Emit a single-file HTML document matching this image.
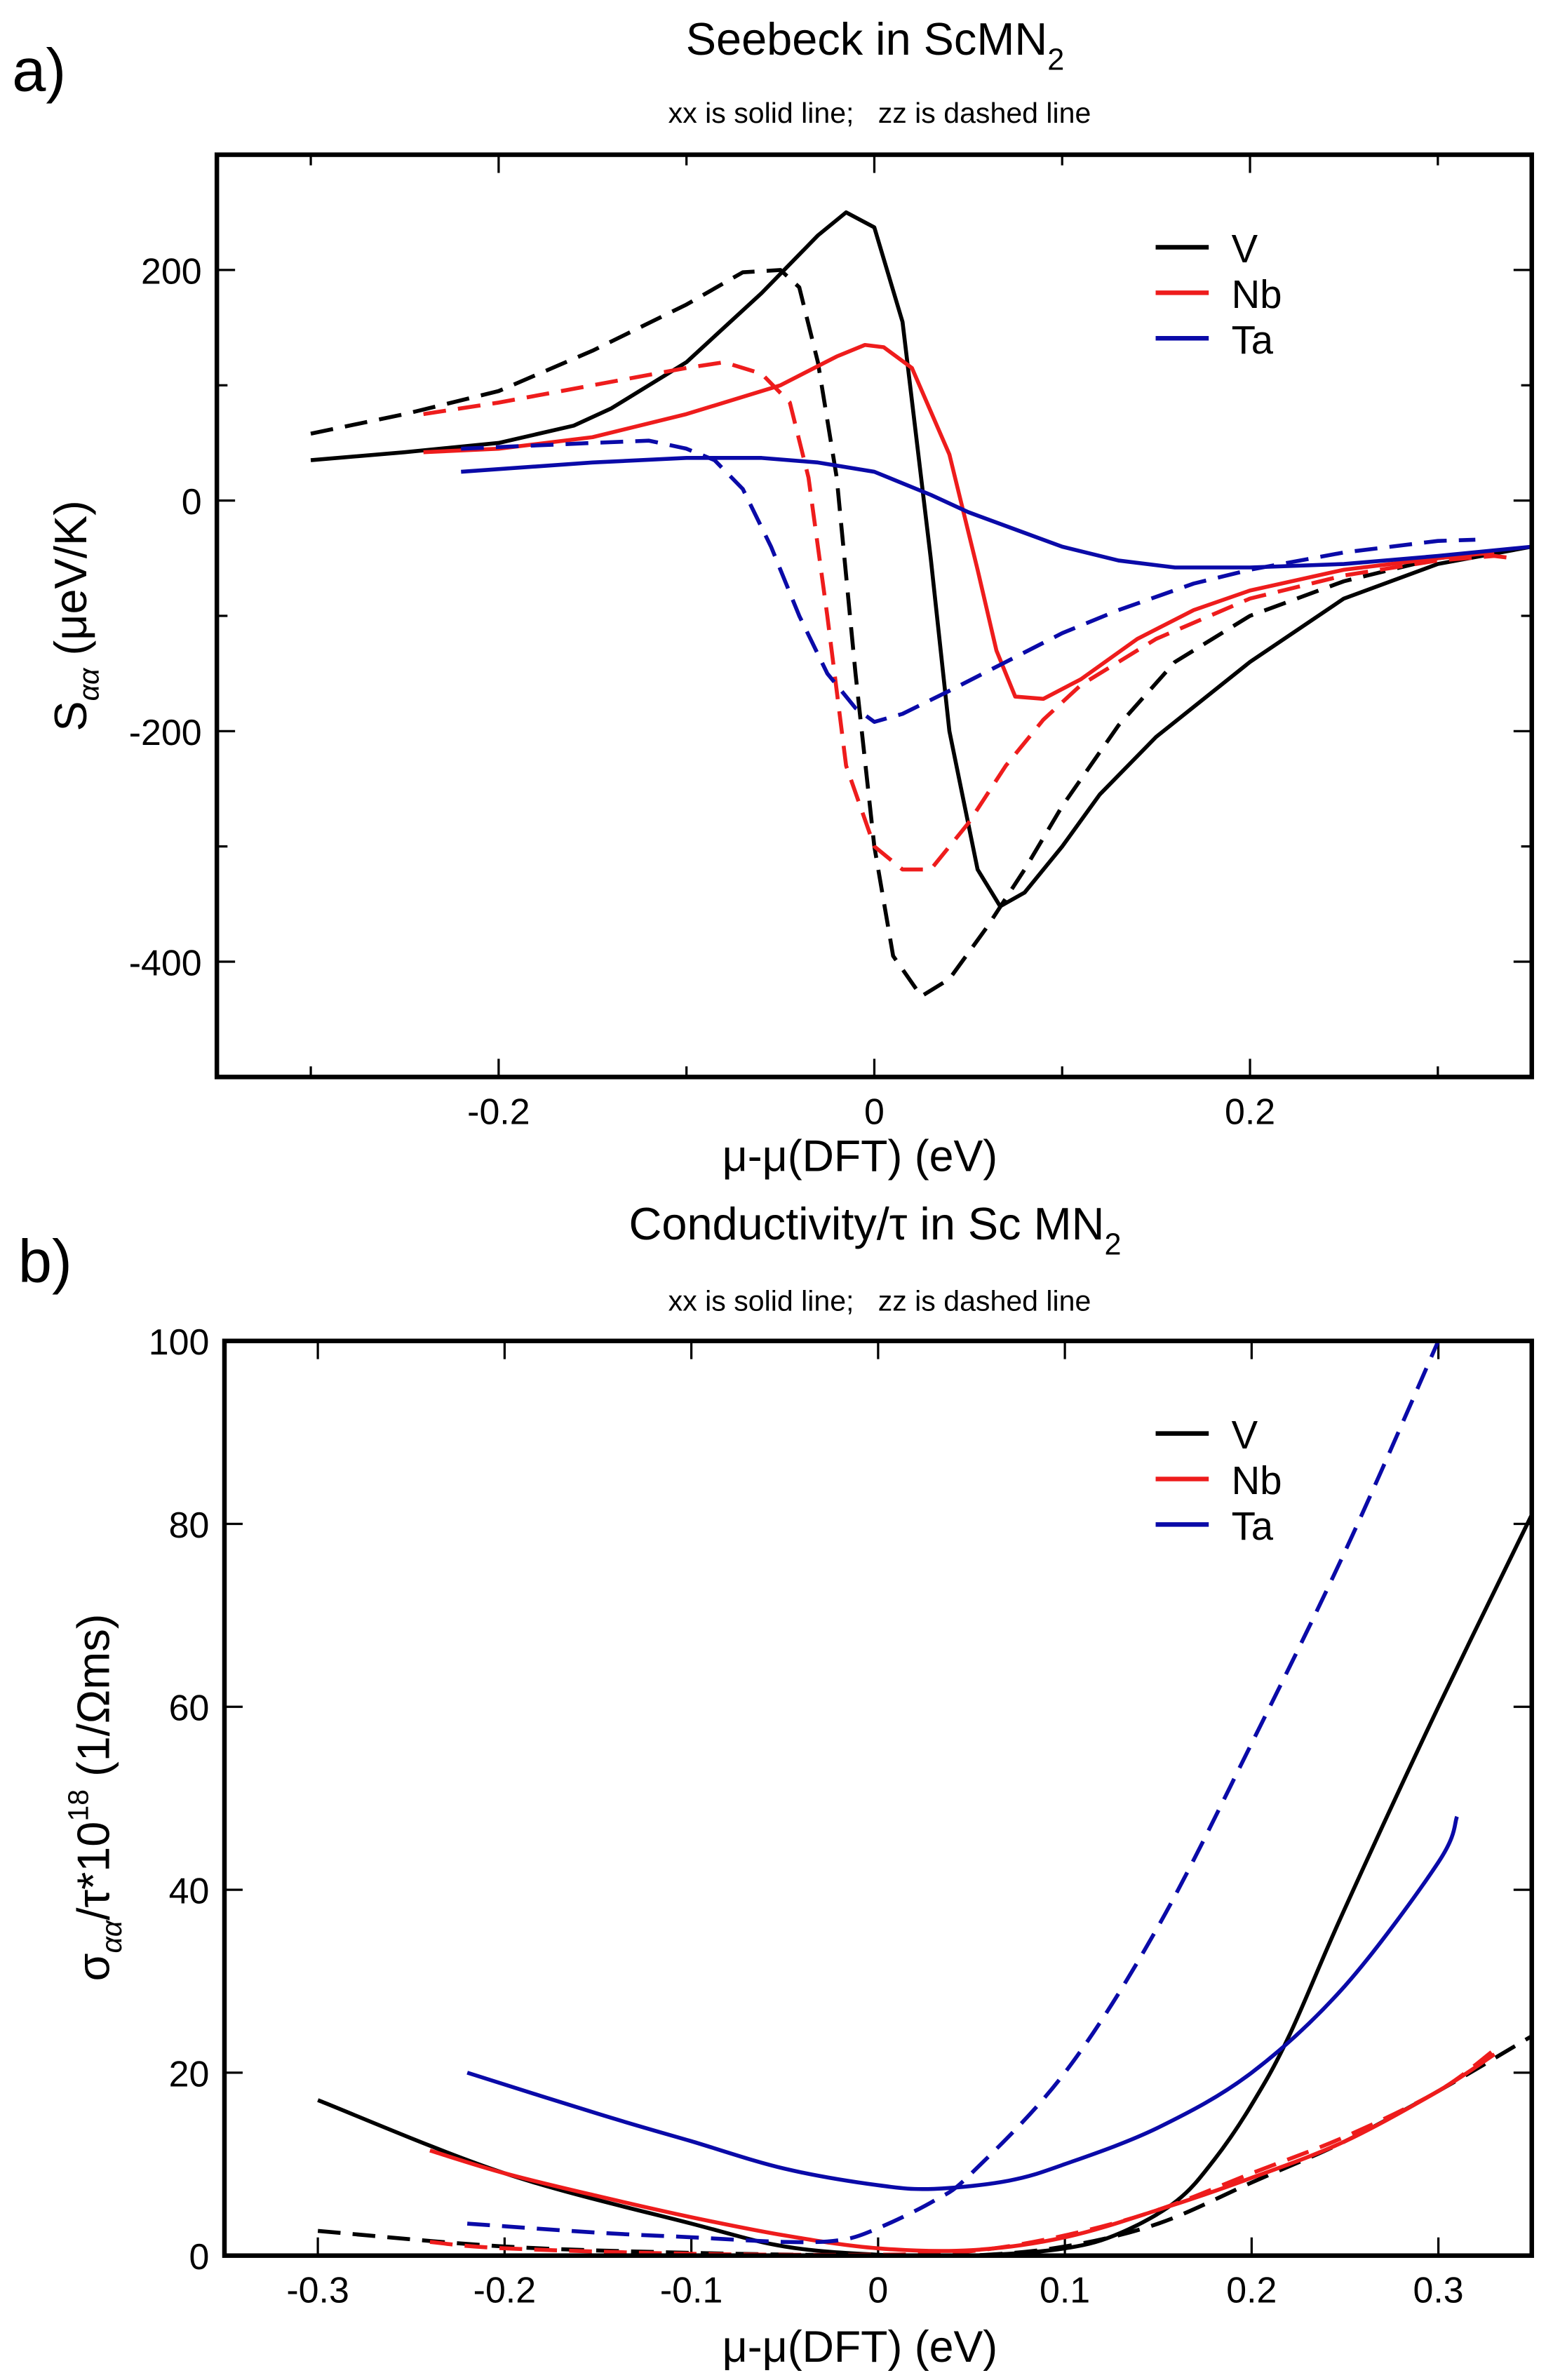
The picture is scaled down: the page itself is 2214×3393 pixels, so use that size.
<!DOCTYPE html>
<html><head><meta charset="utf-8">
<style>
html,body{margin:0;padding:0;background:#fff;}
svg{display:block;}
text{font-family:"Liberation Sans","DejaVu Sans",sans-serif;fill:#000;white-space:pre;}
</style></head>
<body>
<svg id="s" width="2214" height="3393" viewBox="0 0 1024 1569" preserveAspectRatio="none" xmlns="http://www.w3.org/2000/svg" xml:space="preserve">
<rect width="1024" height="1569" fill="#fff"/>
<text x="8" y="60" font-size="40">a)</text>
<text x="577" y="36" font-size="30" text-anchor="middle">Seebeck in ScMN<tspan font-size="20" dy="10">2</tspan></text>
<text x="580" y="81" font-size="19" text-anchor="middle">xx is solid line;   zz is dashed line</text>
<text x="567" y="772" font-size="29" text-anchor="middle">μ-μ(DFT) (eV)</text>
<g transform="translate(57,406) rotate(-90)"><text x="0" y="0" font-size="30" text-anchor="middle">S<tspan font-size="19" dy="8" font-style="italic">αα</tspan><tspan dy="-8"> (μeV/K)</tspan></text></g>
<text x="12" y="845" font-size="40">b)</text>
<text x="577" y="817" font-size="30" text-anchor="middle">Conductivity/τ in Sc MN<tspan font-size="20" dy="10">2</tspan></text>
<text x="580" y="864" font-size="19" text-anchor="middle">xx is solid line;   zz is dashed line</text>
<text x="567" y="1557" font-size="29" text-anchor="middle">μ-μ(DFT) (eV)</text>
<g transform="translate(72,1185) rotate(-90)"><text x="0" y="0" font-size="30" text-anchor="middle">σ<tspan font-size="19" dy="8" font-style="italic">αα</tspan><tspan dy="-8">/τ*10</tspan><tspan font-size="19" dy="-14">18</tspan><tspan dy="14"> (1/Ωms)</tspan></text></g>
<g id="g"></g>
</svg>
<script>
var NS="http://www.w3.org/2000/svg",G=document.getElementById('g');
function el(t,a,txt){var e=document.createElementNS(NS,t);for(var k in a)e.setAttribute(k,a[k]);if(txt!==undefined)e.textContent=txt;G.appendChild(e);return e;}
var BLK="#000",RED="#ee1c1c",BLU="#0a0aa8";
function panel(P){
  var X=function(x){return P.l+(x-P.x0)/(P.x1-P.x0)*(P.r-P.l);};
  var Y=function(y){return P.b-(y-P.y0)/(P.y1-P.y0)*(P.b-P.t);};
  P.xt.forEach(function(v){var L=P.xl.indexOf(v)>=0?12:7;var x=X(v);
    el('line',{x1:x,y1:P.b,x2:x,y2:P.b-L,stroke:'#000','stroke-width':1.5});
    el('line',{x1:x,y1:P.t,x2:x,y2:P.t+L,stroke:'#000','stroke-width':1.5});});
  P.xl.forEach(function(v,i){el('text',{x:X(v),y:P.b+31,'font-size':24,'text-anchor':'middle'},P.xls[i]);});
  P.yt.forEach(function(v){var L=P.yl.indexOf(v)>=0?12:7;var y=Y(v);
    el('line',{x1:P.l,y1:y,x2:P.l+L,y2:y,stroke:'#000','stroke-width':1.5});
    el('line',{x1:P.r,y1:y,x2:P.r-L,y2:y,stroke:'#000','stroke-width':1.5});});
  P.yl.forEach(function(v){el('text',{x:P.l-10,y:Y(v)+9,'font-size':24,'text-anchor':'end'},String(v));});
  var cid='c'+P.t;var cp=el('clipPath',{id:cid});var r=document.createElementNS(NS,'rect');
  r.setAttribute('x',P.l);r.setAttribute('y',P.t);r.setAttribute('width',P.r-P.l);r.setAttribute('height',P.b-P.t);cp.appendChild(r);
  P.series.forEach(function(s){
    var pts=s.p.map(function(p){return [X(p[0]),Y(p[1])];});
    var d='M'+pts[0][0].toFixed(1)+' '+pts[0][1].toFixed(1);
    for(var i=1;i<pts.length;i++){
      if(P.smooth){
        var p0=pts[Math.max(i-2,0)],p1=pts[i-1],p2=pts[i],p3=pts[Math.min(i+1,pts.length-1)];
        var c1=[p1[0]+(p2[0]-p0[0])/6,p1[1]+(p2[1]-p0[1])/6],c2=[p2[0]-(p3[0]-p1[0])/6,p2[1]-(p3[1]-p1[1])/6];
        d+=' C'+c1[0].toFixed(1)+' '+c1[1].toFixed(1)+' '+c2[0].toFixed(1)+' '+c2[1].toFixed(1)+' '+p2[0].toFixed(1)+' '+p2[1].toFixed(1);
      } else d+=' L'+pts[i][0].toFixed(1)+' '+pts[i][1].toFixed(1);
    }
    var a={d:d,fill:'none',stroke:s.c,'stroke-width':2.6,'stroke-linejoin':'round','clip-path':'url(#'+cid+')'};
    if(s.dash)a['stroke-dasharray']='15 8';
    el('path',a);
  });
  el('rect',{x:P.l,y:P.t,width:P.r-P.l,height:P.b-P.t,fill:'none',stroke:'#000','stroke-width':3});
  [['V',BLK],['Nb',RED],['Ta',BLU]].forEach(function(q,i){var y=P.lg+i*30;
    el('line',{x1:762,y1:y,x2:797,y2:y,stroke:q[1],'stroke-width':3});
    el('text',{x:812,y:y+10,'font-size':26},q[0]);});
}
panel({l:143,r:1010,t:102,b:710,x0:-0.35,x1:0.35,y0:-500,y1:300,lg:163,
 xt:[-0.3,-0.2,-0.1,0,0.1,0.2,0.3],xl:[-0.2,0,0.2],xls:['-0.2','0','0.2'],
 yt:[-400,-300,-200,-100,0,100,200],yl:[200,0,-200,-400],
 series:[
 {c:BLK,p:[[-0.3,35],[-0.25,42],[-0.2,50],[-0.16,65],[-0.14,80],[-0.1,120],[-0.06,180],[-0.03,230],[-0.015,250],[0,237],[0.015,155],[0.03,-50],[0.04,-200],[0.055,-320],[0.067,-352],[0.08,-340],[0.1,-300],[0.12,-255],[0.15,-205],[0.2,-140],[0.25,-85],[0.3,-55],[0.35,-40]]},
 {c:BLK,dash:1,p:[[-0.3,58],[-0.25,75],[-0.2,95],[-0.15,130],[-0.1,170],[-0.07,198],[-0.05,200],[-0.04,185],[-0.03,120],[-0.02,20],[-0.01,-150],[0,-300],[0.01,-395],[0.025,-430],[0.04,-415],[0.06,-370],[0.08,-320],[0.1,-265],[0.13,-195],[0.16,-140],[0.2,-100],[0.25,-70],[0.3,-50],[0.35,-40]]},
 {c:RED,p:[[-0.24,42],[-0.2,45],[-0.15,55],[-0.1,75],[-0.05,100],[-0.02,125],[-0.005,135],[0.005,133],[0.02,115],[0.04,40],[0.055,-60],[0.065,-130],[0.075,-170],[0.09,-172],[0.11,-155],[0.14,-120],[0.17,-95],[0.2,-78],[0.25,-60],[0.3,-50],[0.33,-45]]},
 {c:RED,dash:1,p:[[-0.24,75],[-0.2,85],[-0.15,100],[-0.1,115],[-0.08,120],[-0.06,110],[-0.045,85],[-0.035,20],[-0.025,-100],[-0.015,-230],[0,-300],[0.015,-320],[0.03,-320],[0.05,-280],[0.07,-230],[0.09,-190],[0.11,-160],[0.15,-120],[0.2,-85],[0.25,-65],[0.3,-52],[0.33,-48],[0.34,-50]]},
 {c:BLU,p:[[-0.22,25],[-0.15,33],[-0.1,37],[-0.06,37],[-0.03,33],[0,25],[0.03,5],[0.05,-10],[0.08,-28],[0.1,-40],[0.13,-52],[0.16,-58],[0.2,-58],[0.25,-55],[0.3,-48],[0.35,-40]]},
 {c:BLU,dash:1,p:[[-0.22,45],[-0.15,50],[-0.12,52],[-0.1,45],[-0.085,35],[-0.07,10],[-0.055,-40],[-0.04,-100],[-0.025,-150],[-0.01,-180],[0,-192],[0.015,-185],[0.04,-165],[0.07,-140],[0.1,-115],[0.13,-95],[0.17,-72],[0.2,-60],[0.25,-45],[0.3,-35],[0.32,-34]]}
 ]});
panel({l:148,r:1010,t:884,b:1487,x0:-0.35,x1:0.35,y0:0,y1:100,lg:945,smooth:1,
 xt:[-0.3,-0.2,-0.1,0,0.1,0.2,0.3],xl:[-0.3,-0.2,-0.1,0,0.1,0.2,0.3],xls:['-0.3','-0.2','-0.1','0','0.1','0.2','0.3'],
 yt:[0,20,40,60,80,100],yl:[0,20,40,60,80,100],
 series:[
 {c:BLK,p:[[-0.3,17],[-0.2,9],[-0.1,3.5],[-0.05,1],[0,0.1],[0.05,0],[0.1,0.8],[0.13,2.5],[0.16,6],[0.18,10.5],[0.2,16.5],[0.22,24],[0.25,38],[0.3,60],[0.35,81]]},
 {c:BLK,dash:1,p:[[-0.3,2.7],[-0.2,1],[-0.1,0.3],[0,0],[0.05,0],[0.1,1],[0.15,3.5],[0.2,8],[0.25,12.5],[0.3,18],[0.35,24]]},
 {c:RED,p:[[-0.24,11.5],[-0.2,9],[-0.15,6.5],[-0.1,4.2],[-0.05,2.2],[0,0.8],[0.05,0.6],[0.1,2],[0.15,5],[0.2,8.5],[0.25,12.5],[0.3,18],[0.33,22]]},
 {c:RED,dash:1,p:[[-0.24,1.5],[-0.2,0.8],[-0.1,0.2],[0,0.1],[0.05,0.5],[0.1,2.2],[0.15,5],[0.2,9],[0.25,13],[0.3,18],[0.33,22.5]]},
 {c:BLU,p:[[-0.22,20],[-0.15,15.5],[-0.1,12.5],[-0.05,9.5],[0,7.7],[0.03,7.3],[0.07,8.2],[0.1,10],[0.15,14],[0.2,20],[0.25,29.5],[0.3,43],[0.31,48]]},
 {c:BLU,dash:1,p:[[-0.22,3.5],[-0.15,2.5],[-0.1,2],[-0.05,1.5],[-0.02,1.7],[0,3],[0.03,6],[0.05,9],[0.1,20],[0.15,36],[0.2,56],[0.25,77],[0.3,100]]}
 ]});
</script>
</body></html>
